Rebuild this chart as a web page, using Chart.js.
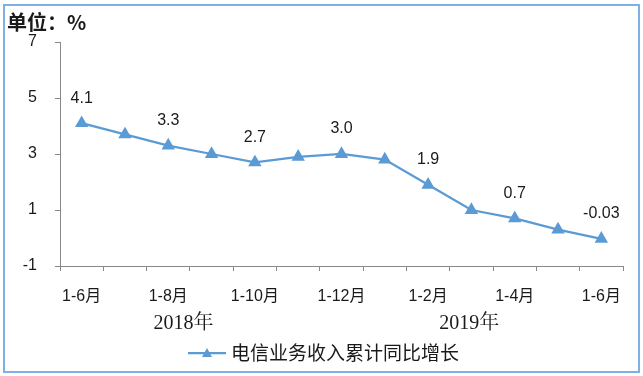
<!DOCTYPE html>
<html>
<head>
<meta charset="utf-8">
<script src="https://cdn.jsdelivr.net/npm/chart.js@4"></script>
<style>
  html, body { margin: 0; padding: 0; background: #fff; }
  #wrap { position: relative; width: 643px; height: 376px; }
</style>
</head>
<body>
<div id="wrap"><canvas id="c" width="643" height="376"></canvas></div>
<script>
const categories = ['1-6月','1-7月','1-8月','1-9月','1-10月','1-11月','1-12月','1月','1-2月','1-3月','1-4月','1-5月','1-6月'];
const values = [4.1, 3.7, 3.3, 3.0, 2.7, 2.9, 3.0, 2.8, 1.9, 1.0, 0.7, 0.3, -0.03];
const valueLabels = ['4.1','','3.3','','2.7','','3.0','','1.9','','0.7','','-0.03'];
const shownTickIdx = [0, 2, 4, 6, 8, 10, 12];
const yearLabels = ['2018年', '2019年'];
const seriesName = '电信业务收入累计同比增长';
const unitLabel = '单位：%';

const BLUE = '#5b9bd5';
const CJK = '"Noto Sans CJK SC", "Noto Sans", sans-serif';
const LAT = '"Liberation Sans", "Noto Sans CJK SC", sans-serif';

const decor = {
  id: 'decor',
  beforeDraw(chart) {
    const ctx = chart.ctx;
    ctx.save();
    ctx.fillStyle = '#fff';
    ctx.fillRect(0, 0, chart.width, chart.height);
    ctx.strokeStyle = '#7fb0e3';
    ctx.lineWidth = 2;
    ctx.strokeRect(4, 5, 635, 367);
    ctx.restore();
  },
  afterDatasetsDraw(chart) {
    const ctx = chart.ctx;
    const meta = chart.getDatasetMeta(0);
    ctx.save();
    ctx.fillStyle = '#1a1a1a';
    ctx.font = '16px ' + LAT;
    ctx.textAlign = 'center';
    ctx.textBaseline = 'middle';
    meta.data.forEach((pt, i) => {
      if (valueLabels[i]) ctx.fillText(valueLabels[i], pt.x, pt.y - 25);
    });
    // unit title
    ctx.textAlign = 'left';
    ctx.font = 'bold 20px ' + CJK;
    ctx.fillText(unitLabel, 7, 22);
    // year group labels
    const xs = chart.scales.x;
    const yearPos = [2.35, 8.95];
    ctx.textAlign = 'center';
    ctx.font = '20px "Liberation Serif", "Noto Serif CJK SC", "Noto Sans CJK SC", serif';
    yearLabels.forEach((t, k) => {
      ctx.fillText(t, xs.getPixelForValue(yearPos[k]), 324);
    });
    // legend
    const ly = 353;
    ctx.strokeStyle = BLUE;
    ctx.lineWidth = 2.25;
    ctx.beginPath();
    ctx.moveTo(188, ly);
    ctx.lineTo(226, ly);
    ctx.stroke();
    ctx.fillStyle = BLUE;
    ctx.beginPath();
    ctx.moveTo(207, ly - 5);
    ctx.lineTo(212, ly + 4);
    ctx.lineTo(202, ly + 4);
    ctx.closePath();
    ctx.fill();
    ctx.fillStyle = '#1a1a1a';
    ctx.textAlign = 'left';
    ctx.font = '19px ' + CJK;
    ctx.fillText(seriesName, 231, ly);
    ctx.restore();
  }
};

new Chart(document.getElementById('c'), {
  type: 'line',
  data: {
    labels: categories,
    datasets: [{
      label: seriesName,
      data: values,
      borderColor: BLUE,
      backgroundColor: BLUE,
      borderWidth: 2.25,
      pointStyle: 'triangle',
      pointRadius: 5.5,
      pointHoverRadius: 5.5,
      tension: 0,
      fill: false
    }]
  },
  options: {
    responsive: false,
    animation: false,
    layout: { padding: { top: 42, right: 20, bottom: 0, left: 0 } },
    plugins: { legend: { display: false }, tooltip: { enabled: false } },
    scales: {
      x: {
        type: 'category',
        offset: true,
        grid: { offset: true, drawOnChartArea: false, drawTicks: true, tickLength: 5, color: '#888' },
        border: { display: true, color: '#888', width: 1 },
        ticks: {
          autoSkip: false,
          maxRotation: 0,
          padding: 16,
          color: '#1a1a1a',
          font: { size: 16, family: LAT },
          callback: (v, i) => shownTickIdx.includes(i) ? categories[i] : ''
        },
        afterFit: (s) => { s.height = 110; }
      },
      y: {
        min: -1,
        max: 7,
        ticks: { stepSize: 2, padding: 18, color: '#1a1a1a', font: { size: 16, family: LAT } },
        grid: { drawOnChartArea: false, drawTicks: true, tickLength: 5, color: '#888' },
        border: { display: true, color: '#888', width: 1 },
        afterFit: (s) => { s.width = 60; }
      }
    }
  },
  plugins: [decor]
});
</script>
</body>
</html>
